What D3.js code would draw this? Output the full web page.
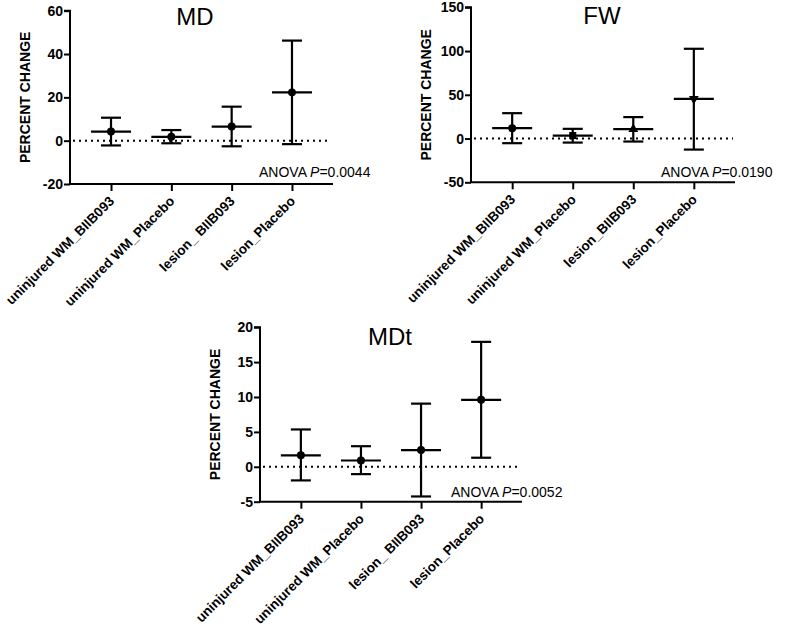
<!DOCTYPE html>
<html>
<head>
<meta charset="utf-8">
<script src="https://cdn.jsdelivr.net/npm/d3@7"></script>
<style>
  body { margin: 0; background: #fff; }
  svg { display: block; font-family: "Liberation Sans", Arial, Helvetica, sans-serif; }
</style>
</head>
<body>
<svg id="chart" width="800" height="633"></svg>
<script>
// ---- data ----
const categoriesMD  = ["uninjured WM_BIIB093", "uninjured WM_Placebo", "lesion_ BIIB093", "lesion_Placebo"];
const categoriesFW  = ["uninjured WM_BIIB093", "uninjured WM_Placebo", "lesion_BIIB093", "lesion_Placebo"];
const categoriesMDt = ["uninjured WM_BIIB093", "uninjured WM_Placebo", "lesion_ BIIB093", "lesion_Placebo"];

const mdMean  = [4.2, 1.8, 6.5, 22.3];
const mdUpper = [10.6, 4.9, 15.7, 46.2];
const mdLower = [-2.2, -1.2, -2.6, -1.6];
const mdTicks = [-20, 0, 20, 40, 60];

const fwMean  = [11.9, 3.4, 10.7, 45.4];
const fwUpper = [29, 11.1, 24.5, 102.6];
const fwLower = [-5.3, -4.6, -3.4, -12.6];
const fwTicks = [-50, 0, 50, 100, 150];

const mdtMean  = [1.65, 0.9, 2.4, 9.6];
const mdtUpper = [5.35, 2.95, 9.05, 17.9];
const mdtLower = [-1.95, -1.05, -4.25, 1.3];
const mdtTicks = [-5, 0, 5, 10, 15, 20];

const titles = ["MD", "FW", "MDt"];
const anovaP = ["0.0044", "0.0190", "0.0052"];
const fwMarkers = ["circle", "square", "triangle", "triangleDown"];

// ---- drawing ----
const svg = d3.select("#chart");

function panel(cfg) {
  const g = svg.append("g");
  const y = d3.scaleLinear().domain(cfg.domain).range([cfg.bottom, cfg.top]);
  const x = d3.scalePoint().domain(cfg.cats).range([cfg.left, cfg.right]).padding(0.68);

  // y axis
  const yAxis = d3.axisLeft(y).tickValues(cfg.ticks).tickSize(6).tickPadding(1).tickFormat(d => String(d));
  const ya = g.append("g").attr("transform", `translate(${cfg.left},0)`).call(yAxis);
  ya.select(".domain").attr("d", `M-6,${y(cfg.domain[1])}H0V${cfg.bottom}`).attr("stroke-width", 2);
  ya.selectAll(".tick line").attr("stroke-width", 2);
  ya.selectAll(".tick text").attr("font-size", 14).attr("font-weight", "bold").attr("fill", "#000")
    .attr("font-family", "Liberation Sans, Arial, sans-serif");

  // x axis
  const xAxis = d3.axisBottom(x).tickSize(7).tickFormat("");
  const xa = g.append("g").attr("transform", `translate(0,${cfg.bottom})`).call(xAxis);
  xa.select(".domain").attr("d", `M${cfg.left},0H${cfg.right}`).attr("stroke-width", 2);
  xa.selectAll(".tick line").attr("stroke-width", 2);

  // rotated labels
  g.selectAll(".xlab").data(cfg.cats).enter().append("text")
    .attr("class", "xlab")
    .attr("transform", d => `translate(${x(d) + 4},${cfg.bottom + 18}) rotate(-45)`)
    .attr("text-anchor", "end")
    .attr("font-size", 13.5).attr("font-weight", "bold")
    .text(d => d);

  // zero dotted line
  g.append("line")
    .attr("x1", cfg.left + 3).attr("x2", cfg.right - 2)
    .attr("y1", y(0)).attr("y2", y(0))
    .attr("stroke", "#000").attr("stroke-width", 2).attr("stroke-dasharray", "2,4");

  // error bars
  cfg.cats.forEach((c, i) => {
    const cx = x(c);
    const eg = g.append("g").attr("stroke", "#000").attr("stroke-width", 2.2);
    eg.append("line").attr("x1", cx).attr("x2", cx).attr("y1", y(cfg.upper[i])).attr("y2", y(cfg.lower[i]));
    eg.append("line").attr("x1", cx - 10).attr("x2", cx + 10).attr("y1", y(cfg.upper[i])).attr("y2", y(cfg.upper[i]));
    eg.append("line").attr("x1", cx - 10).attr("x2", cx + 10).attr("y1", y(cfg.lower[i])).attr("y2", y(cfg.lower[i]));
    eg.append("line").attr("x1", cx - 20).attr("x2", cx + 20).attr("y1", y(cfg.mean[i])).attr("y2", y(cfg.mean[i]));
    const m = cfg.markers ? cfg.markers[i] : "circle";
    const symType = { circle: d3.symbolCircle, square: d3.symbolSquare, triangle: d3.symbolTriangle, triangleDown: d3.symbolTriangle }[m];
    const size = { circle: 50, square: 50, triangle: 42, triangleDown: 42 }[m];
    g.append("path")
      .attr("d", d3.symbol().type(symType).size(size)())
      .attr("transform", `translate(${cx},${y(cfg.mean[i])})` + (m === "triangleDown" ? " rotate(180)" : ""))
      .attr("fill", "#000");
  });

  // title
  g.append("text").attr("x", cfg.titleX).attr("y", cfg.titleY)
    .attr("text-anchor", "middle").attr("font-size", 24).text(cfg.title);

  // y label
  g.append("text")
    .attr("transform", `translate(${cfg.left - 40},${(cfg.top + cfg.bottom) / 2}) rotate(-90)`)
    .attr("text-anchor", "middle").attr("font-size", 14).attr("font-weight", "bold")
    .text("PERCENT CHANGE");

  // ANOVA
  const t = g.append("text").attr("x", cfg.anovaX).attr("y", cfg.anovaY).attr("font-size", 14);
  t.append("tspan").text("ANOVA ");
  t.append("tspan").attr("font-style", "italic").text("P");
  t.append("tspan").text("=" + cfg.p);
}

panel({ cats: categoriesMD, mean: mdMean, upper: mdUpper, lower: mdLower, ticks: mdTicks,
  domain: [-20, 60], top: 10.7, bottom: 184, left: 70, right: 333,
  title: titles[0], titleX: 195, titleY: 25, p: anovaP[0], anovaX: 259, anovaY: 177 });

panel({ cats: categoriesFW, mean: fwMean, upper: fwUpper, lower: fwLower, ticks: fwTicks, markers: fwMarkers,
  domain: [-50, 150], top: 7.3, bottom: 182.3, left: 471, right: 735,
  title: titles[1], titleX: 602, titleY: 24, p: anovaP[1], anovaX: 661, anovaY: 177 });

panel({ cats: categoriesMDt, mean: mdtMean, upper: mdtUpper, lower: mdtLower, ticks: mdtTicks,
  domain: [-5, 20], top: 327.2, bottom: 501.7, left: 260, right: 522,
  title: titles[2], titleX: 390, titleY: 345, p: anovaP[2], anovaX: 451, anovaY: 497 });
</script>
</body>
</html>
